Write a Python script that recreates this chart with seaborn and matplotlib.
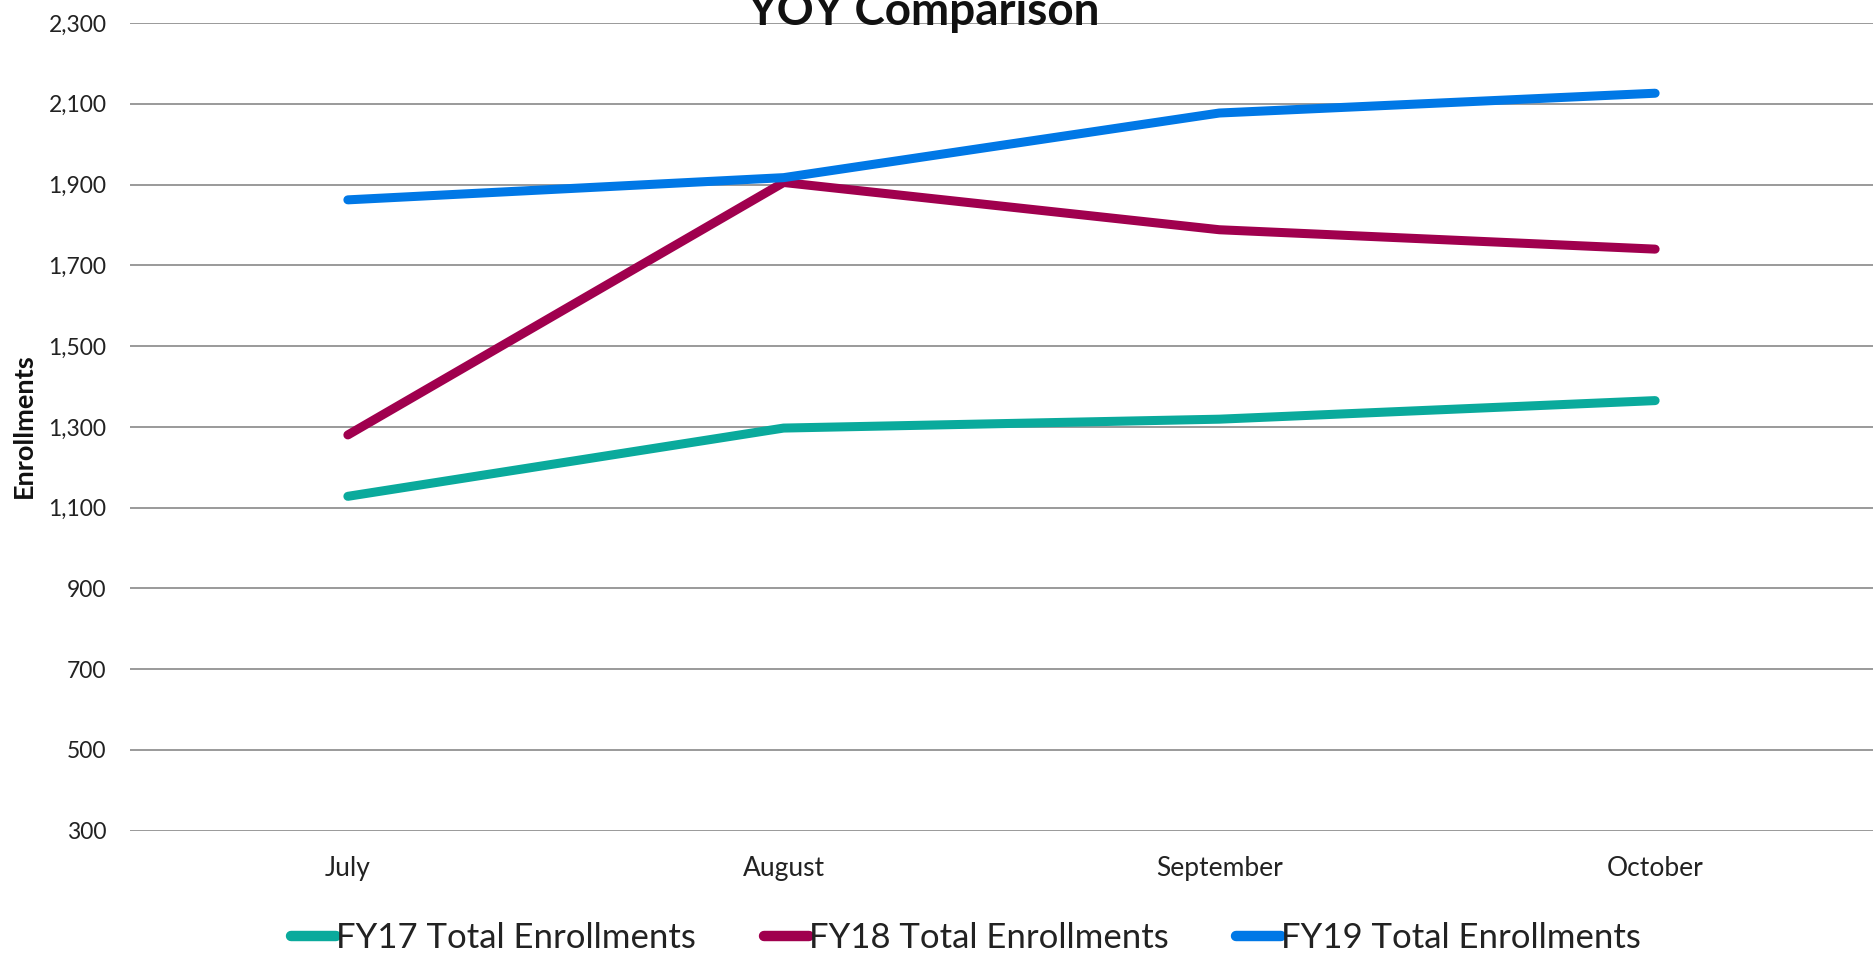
import seaborn as sns
import pandas as pd
import numpy as np
import matplotlib.pyplot as plt
from matplotlib.lines import Line2D
from matplotlib.ticker import FuncFormatter

# Datos
months = ["July", "August", "September", "October"]
fy17 = [1128, 1297, 1319, 1365]
fy18 = [1280, 1905, 1788, 1740]
fy19 = [1862, 1917, 2077, 2126]
series_names = ["FY17 Total Enrollments", "FY18 Total Enrollments", "FY19 Total Enrollments"]
colors = ["#0AAA9C", "#A0004E", "#0078E6"]

# Formato largo para seaborn
df = pd.DataFrame({
    "month": months * 3,
    "value": fy17 + fy18 + fy19,
    "series": np.repeat(series_names, len(months)),
})

sns.set_style("white")
plt.rcParams['font.family'] = ['Lato', 'DejaVu Sans']

fig = plt.figure(figsize=(18.73, 9.56), dpi=100)
ax = fig.add_axes([0.0694, 0.131, 0.9306, 0.845])

sns.lineplot(data=df, x="month", y="value", hue="series", palette=colors,
             linewidth=6.5, sort=False, legend=False, ax=ax,
             solid_capstyle="round", zorder=3)

ax.set_xlim(-0.5, 3.5)
ax.set_ylim(300, 2300)
ax.set_yticks(range(300, 2301, 200))
ax.yaxis.set_major_formatter(FuncFormatter(lambda v, p: f"{int(v):,}"))
ax.grid(axis="y", color="#9a9a9a", linewidth=1.4)
ax.set_axisbelow(True)
for s in ax.spines.values():
    s.set_visible(False)
ax.tick_params(axis="y", labelsize=16.5, pad=17, length=0, colors="#222222")
ax.tick_params(axis="x", labelsize=19, pad=18, length=0, colors="#222222")
ax.set_xlabel("")
ax.set_ylabel("")

# titulo recortado arriba, como en la imagen
fig.text(924 / 1873, 1 - 25 / 956, "YOY Comparison", ha="center", va="baseline",
         fontsize=33, fontweight="bold", color="#111111")
fig.text(24 / 1873, 1 - 426 / 956, "Enrollments", rotation=90, ha="center", va="center",
         fontsize=19.5, fontweight="bold", color="#111111")

handles = [Line2D([0], [0], color=c, linewidth=7.5, solid_capstyle="round") for c in colors]
fig.legend(handles, series_names, loc="center", bbox_to_anchor=(966 / 1873, 1 - 938 / 956),
           ncol=3, frameon=False, fontsize=25, handlelength=1.3, handletextpad=0.0,
           columnspacing=1.95, labelcolor="#222222")

fig.savefig("out.png", dpi=100)
